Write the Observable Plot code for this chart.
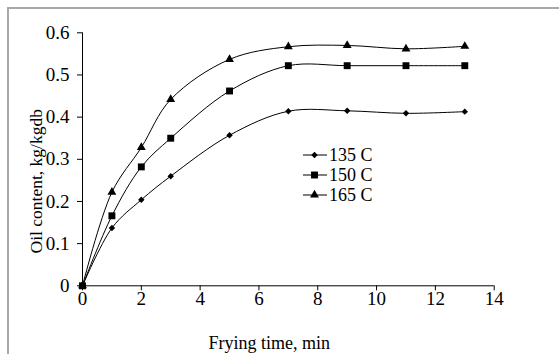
<!DOCTYPE html>
<html>
<head>
<meta charset="utf-8">
<script src="https://cdn.jsdelivr.net/npm/d3@7"></script>
<script src="https://cdn.jsdelivr.net/npm/@observablehq/plot@0.6"></script>
<style>
  html, body { margin: 0; padding: 0; background: white; }
  #wrap { position: relative; width: 559px; height: 354px; overflow: hidden; font-family: "Liberation Serif", serif; }
  #border { position: absolute; left: 7px; top: 7px; width: 600px; height: 400px; border-top: 2px solid #a8a8a8; border-left: 2px solid #a8a8a8; pointer-events: none; }
  #legend { position: absolute; left: 303px; top: 145px; font-size: 18px; color: black; line-height: 20px; }
  #legend .row { display: flex; align-items: center; height: 20px; }
  #legend svg { display: block; }
</style>
</head>
<body>
<div id="wrap">
  <div id="chart"></div>
  <div id="border"></div>
  <div id="legend"></div>
</div>
<script>
const times = [0, 1, 2, 3, 5, 7, 9, 11, 13];
const oil135 = [0, 0.137, 0.204, 0.260, 0.357, 0.414, 0.415, 0.409, 0.413];
const oil150 = [0, 0.166, 0.282, 0.350, 0.462, 0.522, 0.522, 0.522, 0.522];
const oil165 = [0, 0.222, 0.328, 0.442, 0.537, 0.567, 0.570, 0.562, 0.568];
const seriesNames = ["135 C", "150 C", "165 C"];
const seriesValues = [oil135, oil150, oil165];
const symbolNames = ["diamond2", "square", "triangle"];
const symbolRadii = [2.9, 3.9, 3.3];
const xTicks = [0, 2, 4, 6, 8, 10, 12, 14];
const yTicks = [0, 0.1, 0.2, 0.3, 0.4, 0.5, 0.6];
const xTitle = "Frying time, min";
const yTitle = "Oil content, kg/kgdb";

const data = seriesNames.flatMap((s, k) => times.map((t, i) => ({time: t, oil: seriesValues[k][i], series: s})));

const dotMarks = seriesNames.map((s, k) =>
  Plot.dot(data.filter(d => d.series === s), {x: "time", y: "oil", symbol: () => symbolNames[k], r: symbolRadii[k], fill: "black", stroke: "none"})
);

const chart = Plot.plot({
  width: 559,
  height: 354,
  marginLeft: 82,
  marginRight: 65.3,
  marginTop: 32.3,
  marginBottom: 68.7,
  style: {fontFamily: "Liberation Serif", fontSize: "18px", color: "black", background: "white", overflow: "visible"},
  x: {domain: [0, 14]},
  y: {domain: [0, 0.6]},
  symbol: {type: "identity"},
  marks: [
    Plot.ruleX([0], {stroke: "black", strokeWidth: 1}),
    Plot.ruleY([0], {stroke: "black", strokeWidth: 1}),
    Plot.axisX({ticks: xTicks, tickSize: 5, tickPadding: 1, label: null, fontSize: 19, tickFormat: d => String(d), stroke: "black", strokeOpacity: 1}),
    Plot.axisY({ticks: yTicks, tickSize: 5, tickPadding: 8, label: null, fontSize: 19, tickFormat: d => d === 0 ? "0" : d.toFixed(1), stroke: "black", strokeOpacity: 1}),
    Plot.line(data, {x: "time", y: "oil", z: "series", curve: "catmull-rom", stroke: "black", strokeWidth: 1}),
    ...dotMarks,
    Plot.text([xTitle], {frameAnchor: "bottom", textAnchor: "middle", lineAnchor: "middle", dx: -19, dy: 57, text: d => d, fontSize: 18}),
    Plot.text([yTitle], {frameAnchor: "left", textAnchor: "middle", lineAnchor: "middle", dx: -46, dy: 22, rotate: -90, text: d => d, fontSize: 17.5})
  ]
});
document.getElementById("chart").appendChild(chart);

// Legend
const legend = d3.select("#legend");
seriesNames.forEach((s, k) => {
  const row = legend.append("div").attr("class", "row");
  const svg = row.append("svg").attr("width", 26).attr("height", 20);
  svg.append("line").attr("x1", 0).attr("x2", 24).attr("y1", 10).attr("y2", 10).attr("stroke", "black").attr("stroke-width", 1);
  const sym = {diamond2: d3.symbolDiamond2, square: d3.symbolSquare, triangle: d3.symbolTriangle}[symbolNames[k]];
  svg.append("path").attr("transform", "translate(11.5,10)").attr("d", d3.symbol(sym, Math.PI * symbolRadii[k] * symbolRadii[k])()).attr("fill", "black");
  row.append("span").text(s);
});
</script>
</body>
</html>
